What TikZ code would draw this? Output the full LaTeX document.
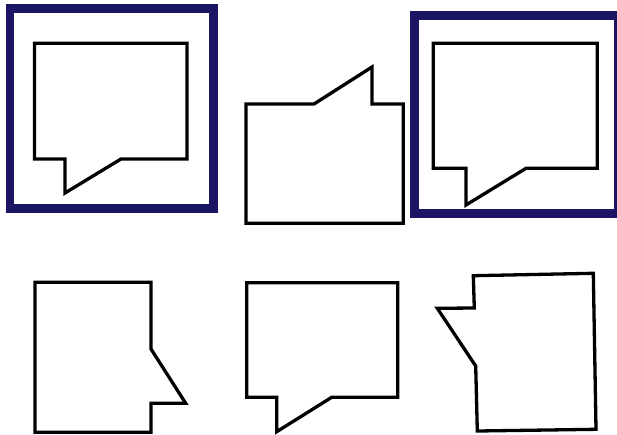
\documentclass[tikz,border=0pt]{standalone}
\definecolor{framenavy}{RGB}{28,21,100}
\begin{document}
\begin{tikzpicture}[x=1pt,y=-1pt,
  bubble/.style={draw=black,line width=3.3pt,fill=white,line join=miter},
  frame/.style={draw=framenavy,line width=8.5pt}]
\useasboundingbox (0,0) rectangle (617,434);
\fill[white] (0,0) rectangle (617,434);
% frames
\draw[frame] (10.2,8.5) rectangle (213.5,208.5);
\draw[frame] (414.5,15.5) rectangle (618.5,213.5);
% bubble 1
\draw[bubble] (34.5,43.3) -- (187,43.3) -- (187,159) -- (121,159) -- (65,193) -- (65,159) -- (34.5,159) -- cycle;
% bubble 2 (tail up)
\draw[bubble] (246,104) -- (314,104) -- (372,67) -- (372,104) -- (403.3,104) -- (403.3,223.3) -- (246,223.3) -- cycle;
% bubble 3
\draw[bubble] (433.3,43.3) -- (597.3,43.3) -- (597.3,168.3) -- (526,168.3) -- (466,205) -- (466,168.3) -- (433.3,168.3) -- cycle;
% bubble 4 (tail right)
\draw[bubble] (35,282.3) -- (151,282.3) -- (151,349) -- (185.7,403.3) -- (151,403.3) -- (151,432.3) -- (35,432.3) -- cycle;
% bubble 5
\draw[bubble] (246.7,282.7) -- (397.7,282.7) -- (397.7,397.3) -- (331.7,397.3) -- (276.7,431.7) -- (276.7,397.3) -- (246.7,397.3) -- cycle;
% bubble 6 (tail left, slightly rotated)
\draw[bubble] (473.3,275.7) -- (593.3,273.3) -- (596,429.3) -- (477.3,431) -- (475.7,366) -- (437.3,308.3) -- (474.3,308) -- cycle;
\end{tikzpicture}
\end{document}
